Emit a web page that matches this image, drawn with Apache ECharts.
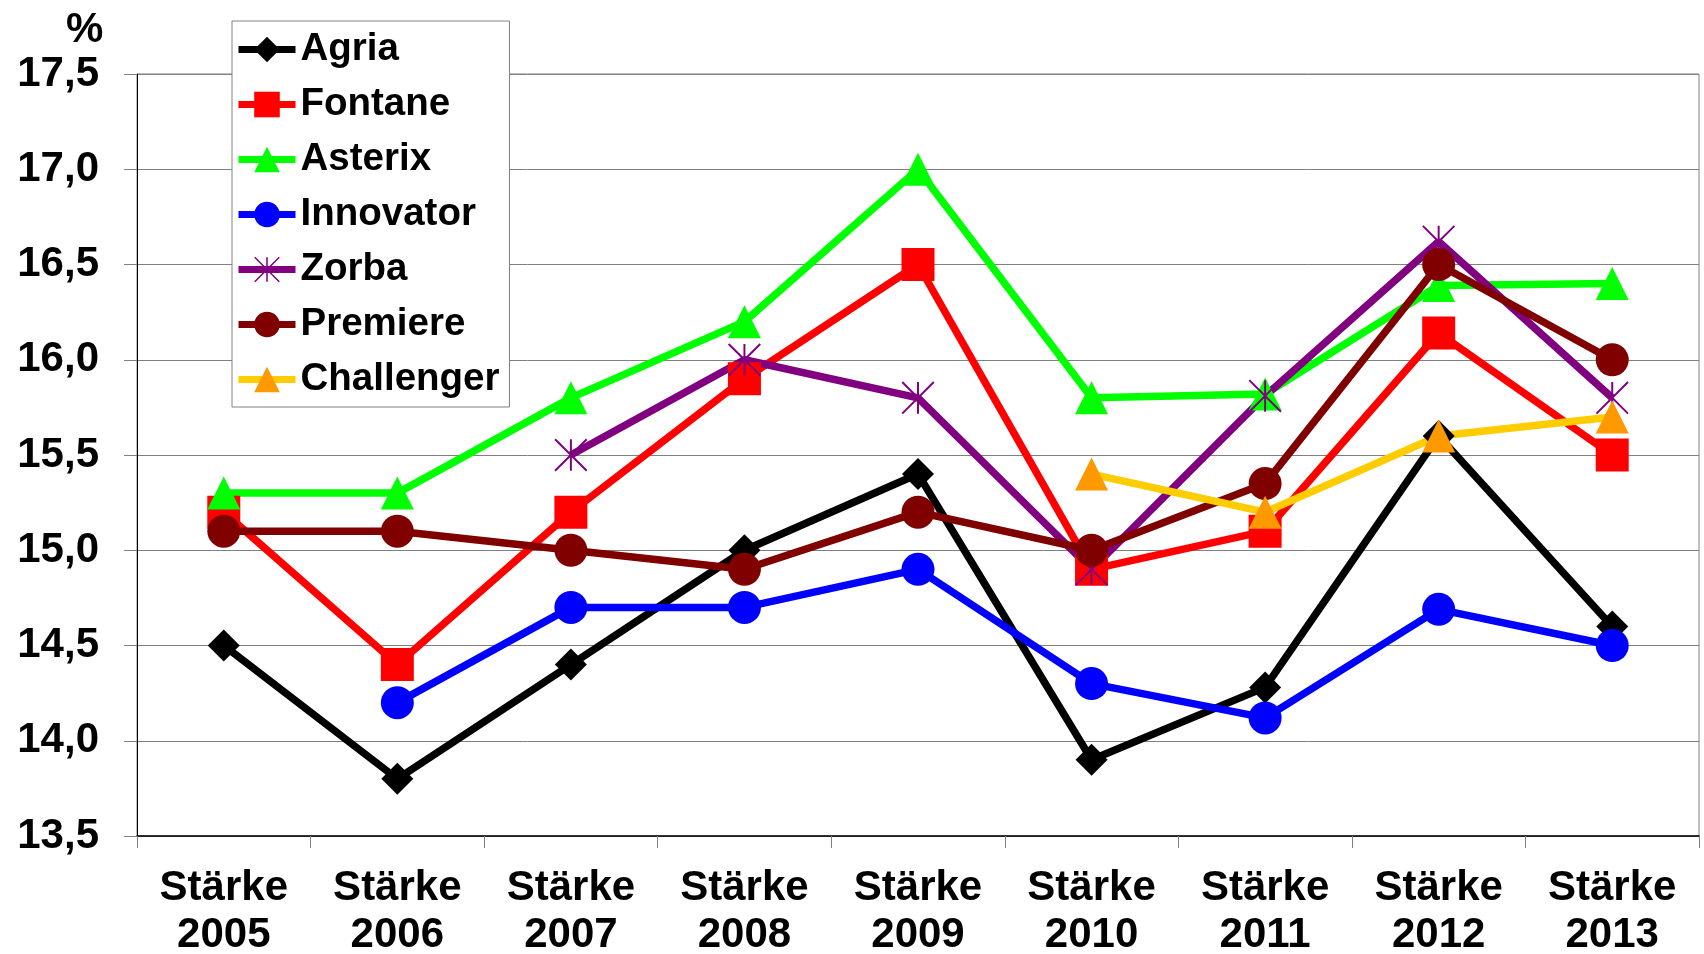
<!DOCTYPE html>
<html>
<head>
<meta charset="utf-8">
<script src="https://cdn.jsdelivr.net/npm/echarts@6/dist/echarts.min.js"></script>
<style>
html,body{margin:0;padding:0;background:#fff;}
#c{width:1704px;height:954px;}
</style>
</head>
<body>
<div id="c"></div>
<script>
const categories = ['Stärke\n2005','Stärke\n2006','Stärke\n2007','Stärke\n2008','Stärke\n2009','Stärke\n2010','Stärke\n2011','Stärke\n2012','Stärke\n2013'];
const agria      = [14.5, 13.8, 14.4, 15.0, 15.4, 13.9, 14.28, 15.6, 14.6];
const fontane    = [15.2, 14.4, 15.2, 15.9, 16.5, 14.9, 15.1, 16.14, 15.5];
const asterix    = [15.3, 15.3, 15.8, 16.2, 17.0, 15.8, 15.82, 16.39, 16.4];
const innovator  = [null, 14.2, 14.7, 14.7, 14.9, 14.3, 14.12, 14.69, 14.5];
const zorba      = [null, null, 15.5, 16.0, 15.8, 14.9, 15.81, 16.62, 15.8];
const premiere   = [15.1, 15.1, 15.0, 14.9, 15.2, 15.0, 15.35, 16.5, 16.0];
const challenger = [null, null, null, null, null, 15.4, 15.2, 15.6, 15.7];
const yMin = 13.5, yMax = 17.5, yStep = 0.5;

const FONT = '"Liberation Sans", Arial, sans-serif';
const starPath = 'path://M-1,-16L1,-16L1,16L-1,16Z' +
  'M-15.3,-16.7L16.7,15.3L15.3,16.7L-16.7,-15.3Z' +
  'M15.3,-16.7L16.7,-15.3L-15.3,16.7L-16.7,15.3Z';

function mk(name, data, lineColor, symbol, symColor, size) {
  return {
    name: name, type: 'line', data: data,
    symbol: symbol, symbolSize: size,
    showAllSymbol: true,
    lineStyle: { color: lineColor, width: 7.5 },
    itemStyle: { color: symColor, opacity: 1 },
    emphasis: { disabled: true },
    animation: false
  };
}

const chart = echarts.init(document.getElementById('c'), null, { renderer: 'canvas' });
chart.setOption({
  backgroundColor: '#fff',
  animation: false,
  grid: { left: 137, right: 5, top: 74, bottom: 118, containLabel: false, outerBoundsMode: 'none',
    show: true, borderColor: '#808080', borderWidth: 1, backgroundColor: 'transparent' },
  graphic: [{ type: 'text', left: 66, top: 9, style: { text: '%', font: 'bold 42px ' + FONT, fill: '#000' } }],
  legend: {
    orient: 'vertical', left: 232, top: 21,
    padding: [9, 10, 8, 3], itemGap: 16, itemWidth: 57, itemHeight: 32,
    backgroundColor: '#fff', borderColor: '#808080', borderWidth: 1, borderRadius: 0,
    lineStyle: { width: 7 },
    textStyle: { fontFamily: FONT, fontWeight: 'bold', fontSize: 38.5, lineHeight: 38, color: '#000' },
    data: ['Agria','Fontane','Asterix','Innovator','Zorba','Premiere','Challenger']
  },
  xAxis: {
    type: 'category', data: categories, boundaryGap: true,
    axisLine: { lineStyle: { color: '#000', width: 1.5 } },
    axisTick: { show: true, alignWithLabel: false, length: 12, lineStyle: { color: '#808080' } },
    axisLabel: { margin: 29, fontFamily: FONT, fontWeight: 'bold', fontSize: 42, lineHeight: 47, color: '#000', interval: 0 },
    splitLine: { show: false }
  },
  yAxis: {
    type: 'value', min: yMin, max: yMax, interval: yStep,
    axisLine: { show: true, lineStyle: { color: '#000', width: 1 } },
    axisTick: { show: true, length: 13, lineStyle: { color: '#808080' } },
    axisLabel: { margin: 38, padding: [8, 0, 0, 0], fontFamily: FONT, fontWeight: 'bold', fontSize: 42, color: '#000',
      formatter: v => v.toFixed(1).replace('.', ',') },
    splitLine: { show: true, lineStyle: { color: '#808080', width: 1 } }
  },
  series: [
    mk('Agria', agria, '#000000', 'diamond', '#000000', 32),
    mk('Fontane', fontane, '#FF0000', 'rect', '#FF0000', 33),
    mk('Asterix', asterix, '#00FF00', 'triangle', '#00FF00', 33),
    mk('Innovator', innovator, '#0000FF', 'circle', '#0000FF', 33),
    mk('Zorba', zorba, '#800080', starPath, '#800080', 33),
    mk('Premiere', premiere, '#800000', 'circle', '#800000', 33),
    mk('Challenger', challenger, '#FFCC00', 'triangle', '#FF9900', 33)
  ]
});
</script>
</body>
</html>
